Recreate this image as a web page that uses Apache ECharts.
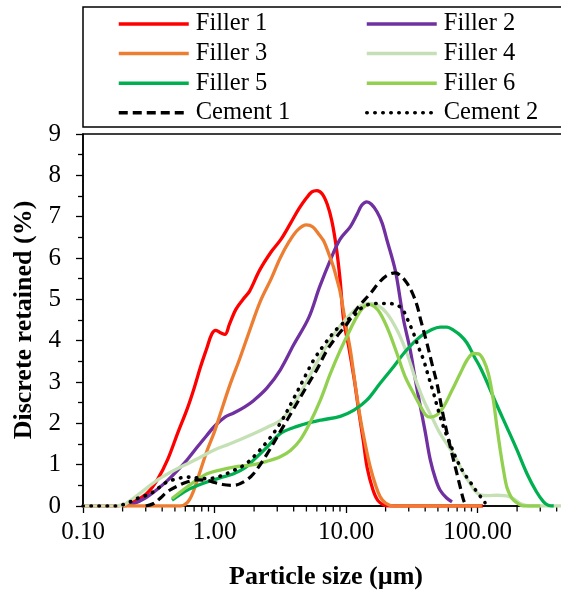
<!DOCTYPE html>
<html>
<head>
<meta charset="utf-8">
<script src="https://cdn.jsdelivr.net/npm/echarts@6/dist/echarts.min.js"></script>
<style>html,body{margin:0;padding:0;background:#fff}#c{width:561px;height:593px}</style>
</head>
<body>
<div id="c"></div>
<script>
// ---- data (particle size in µm, discrete retained in %) ----
const seriesNames = ['Filler 1','Filler 2','Filler 3','Filler 4','Filler 5','Filler 6','Cement 1','Cement 2'];
const f1x = [0.1,0.18,0.22,0.26,0.31,0.37,0.44,0.53,0.62,0.7,0.78,0.87,0.95,1.02,1.1,1.2,1.3,1.45,1.65,1.85,2.2,2.7,3.2,3.8,4.4,5.0,5.5,6.0,6.6,7.2,7.8,8.4,9.0,9.6,10.5,11.5,12.5,13.5,14.5,16,17.5,19.5,22,30,60,110];
const f1y = [0,0,0.05,0.15,0.32,0.65,1.12,1.8,2.35,2.85,3.35,3.8,4.15,4.25,4.2,4.15,4.4,4.75,5.0,5.2,5.7,6.15,6.45,6.85,7.2,7.45,7.6,7.63,7.55,7.3,6.9,6.3,5.5,4.5,3.85,3.1,2.3,1.6,0.92,0.4,0.13,0.02,0,0,0,0];
const f2x = [0.2,0.24,0.3,0.36,0.44,0.53,0.62,0.75,0.87,1.0,1.2,1.4,1.7,2.0,2.5,3.16,4.0,5.2,6.3,7.6,9.0,10.8,12.1,13.2,14.4,15.6,17.2,18.8,20.5,23.7,25.9,27.4,30.8,33.5,36.8,40,43.8,48,52,58,64];
const f2y = [0,0.05,0.2,0.38,0.62,0.88,1.12,1.45,1.7,1.93,2.15,2.25,2.4,2.56,2.85,3.29,3.9,4.55,5.3,5.95,6.45,6.76,7.05,7.28,7.36,7.3,7.12,6.85,6.43,5.7,4.98,4.5,3.77,3.1,2.4,1.8,1.11,0.65,0.38,0.2,0.1];
const f3x = [0.2,0.4,0.55,0.62,0.68,0.77,0.88,1.0,1.1,1.3,1.57,1.9,2.23,2.7,3.16,3.7,4.3,5.0,5.6,6.3,6.8,7.5,8.0,8.5,9.0,9.6,10.2,10.8,11.8,12.8,14,15.3,16.8,18.2,20,23,30,60,108];
const f3y = [0,0,0,0.08,0.3,0.8,1.35,1.8,2.2,2.9,3.6,4.35,4.95,5.5,6.0,6.4,6.68,6.8,6.75,6.55,6.4,6.05,5.8,5.5,5.2,4.7,4.2,3.77,2.9,2.15,1.5,0.94,0.5,0.22,0.07,0,0,0,0];
const f4x = [0.1,0.17,0.2,0.24,0.29,0.35,0.42,0.49,0.6,0.75,0.985,1.3,1.98,2.5,3.16,3.8,4.49,5.5,6.8,8.3,10.2,12.3,15.0,17.5,20.5,24.5,29.1,33.5,38.9,45,52,60,69.8,78,88,96,105,120,141,160,177,195,211,250,400,1000];
const f4y = [0,0,0.02,0.18,0.38,0.58,0.74,0.86,1.0,1.15,1.35,1.5,1.75,1.9,2.07,2.35,2.72,3.25,3.77,4.2,4.55,4.8,4.9,4.85,4.66,4.25,3.69,3.1,2.56,2.15,1.75,1.45,1.11,0.8,0.54,0.36,0.27,0.25,0.26,0.25,0.22,0.14,0.06,0,0,0];
const f5x = [0.475,0.55,0.618,0.75,0.877,1.1,1.4,1.7,1.98,2.5,3.16,4.0,5.05,6.5,9.05,11.5,14.4,18,23,29,36.8,45,52,58.6,66,74,83,95,105,118,140,167,200,238,280,318,345,380];
const f5y = [0.14,0.28,0.38,0.5,0.58,0.68,0.78,0.92,1.11,1.42,1.75,1.9,2.0,2.08,2.17,2.32,2.56,2.95,3.37,3.78,4.1,4.27,4.33,4.33,4.25,4.13,3.95,3.6,3.35,3.0,2.45,1.91,1.35,0.78,0.35,0.1,0.02,0];
const f6x = [0.475,0.55,0.618,0.75,0.877,1.1,1.4,1.98,2.5,3.16,3.8,4.49,5.3,6.38,7.6,9.05,10.5,12.1,13.5,14.9,16.5,18.2,21,24.4,28,32.7,37,40.5,43.8,49,55.2,64,74,84,93.3,102,111,121,132,140,149,158,167,178,188,205,224,300];
const f6y = [0.18,0.34,0.46,0.65,0.78,0.87,0.94,1.0,1.08,1.19,1.35,1.6,2.0,2.56,3.2,3.77,4.2,4.58,4.8,4.88,4.82,4.66,4.25,3.69,3.15,2.72,2.4,2.2,2.15,2.2,2.4,2.8,3.21,3.55,3.69,3.68,3.53,3.2,2.56,1.95,1.35,0.85,0.46,0.25,0.14,0.05,0,0];
const c1x = [0.3,0.344,0.39,0.435,0.52,0.618,0.75,0.877,1.0,1.15,1.4,1.7,1.98,2.5,3.16,4.0,5.0,6.0,7.18,8.5,10.2,12.3,15.3,18,20.5,23.7,26.5,29.1,32,34.7,37,41.3,45,49.2,55.2,62.1,69.8,74,78.4,82];
const c1y = [0,0.06,0.2,0.34,0.48,0.58,0.63,0.62,0.57,0.52,0.5,0.6,0.78,1.25,1.8,2.35,2.88,3.3,3.77,4.1,4.41,4.8,5.14,5.42,5.58,5.64,5.55,5.39,5.15,4.85,4.5,3.93,3.45,2.96,2.15,1.43,0.78,0.45,0.14,0];
const c2x = [0.1,0.18,0.22,0.257,0.326,0.38,0.435,0.52,0.618,0.75,0.877,1.1,1.4,1.7,1.98,2.5,3.16,4.0,5.0,5.67,7.0,8.5,10,11.4,13,15,18.2,21,24.4,27,29.5,32.7,35.5,38.9,42.5,46.4,50.5,55.2,62,69.8,78,88,100,111,114];
const c2y = [0,0,0.08,0.18,0.3,0.45,0.58,0.66,0.7,0.68,0.66,0.72,0.86,1.0,1.19,1.55,2.0,2.6,3.2,3.53,3.95,4.28,4.48,4.6,4.78,4.88,4.9,4.9,4.86,4.75,4.5,4.17,3.85,3.53,3.12,2.72,2.3,1.91,1.5,1.11,0.82,0.58,0.32,0.14,0.08];

const xTickLabels = {0.1:'0.10', 1:'1.00', 10:'10.00', 100:'100.00'};
const xMinorTicks = [0.2,0.3,0.4,0.5,0.6,0.7,0.8,0.9,2,3,4,5,6,7,8,9,20,30,40,50,60,70,80,90,200,300,400,500,600,700,800,900];
const yTicks = [0,1,2,3,4,5,6,7,8,9];

// ---- styles ----
const colors = ['#ff0000','#7030a0','#ed7d31','#c5e0b4','#00b050','#92d050','#000000','#000000'];
const xs = [f1x,f2x,f3x,f4x,f5x,f6x,c1x,c2x];
const ys = [f1y,f2y,f3y,f4y,f5y,f6y,c1y,c2y];
const FONT = 'Liberation Serif';

const lineSeries = seriesNames.map((n, i) => {
  const ls = {color: colors[i], width: 3.3};
  if (n === 'Cement 1') { ls.type = [9, 5]; ls.width = 3.2; }
  if (n === 'Cement 2') { ls.type = [0.5, 7.5]; ls.cap = 'round'; ls.width = 3.6; }
  return {
    name: n, type: 'line', smooth: 0.35, symbol: 'none', showSymbol: false,
    data: xs[i].map((x, k) => [x, ys[i][k]]),
    lineStyle: ls, itemStyle: {color: colors[i]}, z: 3
  };
});

const minorTickSeries = {
  type: 'custom', silent: true, clip: false, z: 1,
  data: xMinorTicks.map(v => [v, 0]),
  renderItem: function (params, api) {
    const p = api.coord([api.value(0), 0]);
    return {type: 'line', shape: {x1: p[0], y1: p[1], x2: p[0], y2: p[1] + 5.5},
            style: {stroke: '#000', lineWidth: 1.3}};
  }
};

const chart = echarts.init(document.getElementById('c'), null, {renderer: 'canvas'});
const legendCommon = {
  orient: 'vertical', top: 11, itemWidth: 70, itemHeight: 14, itemGap: 3.6, padding: 0,
  itemStyle: {opacity: 0, borderWidth: 0},
  lineStyle: {width: 3.5},
  textStyle: {fontFamily: FONT, fontSize: 24.5, color: '#000', lineHeight: 26, padding: [0, 0, 0, 2]},
  selectedMode: false
};
chart.setOption({
  animation: false,
  backgroundColor: '#fff',
  title: {
    text: 'Particle size (µm)', left: 326, top: 564, textAlign: 'center', padding: 0,
    textStyle: {fontFamily: FONT, fontSize: 26, fontWeight: 'bold', color: '#000'}
  },
  legend: [
    Object.assign({left: 117, data: ['Filler 1','Filler 3','Filler 5','Cement 1']}, legendCommon),
    Object.assign({left: 365, data: ['Filler 2','Filler 4','Filler 6','Cement 2']}, legendCommon)
  ],
  graphic: [{
    type: 'rect', shape: {x: 83, y: 7, width: 520, height: 120},
    style: {fill: 'none', stroke: '#000', lineWidth: 1.5}, z: 10
  }],
  grid: {left: 83, top: 134, width: 526, height: 372, containLabel: false, outerBoundsMode: 'none',
    show: true, borderColor: '#000', borderWidth: 1.5, backgroundColor: 'transparent'},
  xAxis: {
    type: 'log', logBase: 10, min: 0.1, max: 1000,
    axisLine: {lineStyle: {color: '#000', width: 1.5}},
    axisTick: {show: true, inside: false, length: 7, lineStyle: {color: '#000', width: 1.3}},
    minorTick: {show: false},
    splitLine: {show: false},
    axisLabel: {
      fontFamily: FONT, fontSize: 25, color: '#000', margin: 14, hideOverlap: false,
      formatter: v => xTickLabels[+Number(v).toPrecision(6)] || ''
    }
  },
  yAxis: {
    type: 'value', min: 0, max: 9, interval: 1,
    name: 'Discrete retained (%)', nameLocation: 'middle', nameGap: 45, nameRotate: 90,
    nameTextStyle: {fontFamily: FONT, fontSize: 26, fontWeight: 'bold', color: '#000'},
    axisLine: {show: true, lineStyle: {color: '#000', width: 1.5}},
    axisTick: {show: true, inside: false, length: 7, lineStyle: {color: '#000', width: 1.3}},
    minorTick: {show: true, splitNumber: 2, length: 5, lineStyle: {color: '#000', width: 1.3}},
    splitLine: {show: false},
    axisLabel: {fontFamily: FONT, fontSize: 25, color: '#000', margin: 22,
      formatter: v => yTicks.indexOf(v) >= 0 ? String(v) : ''}
  },
  series: lineSeries.concat([minorTickSeries])
});
</script>
</body>
</html>
